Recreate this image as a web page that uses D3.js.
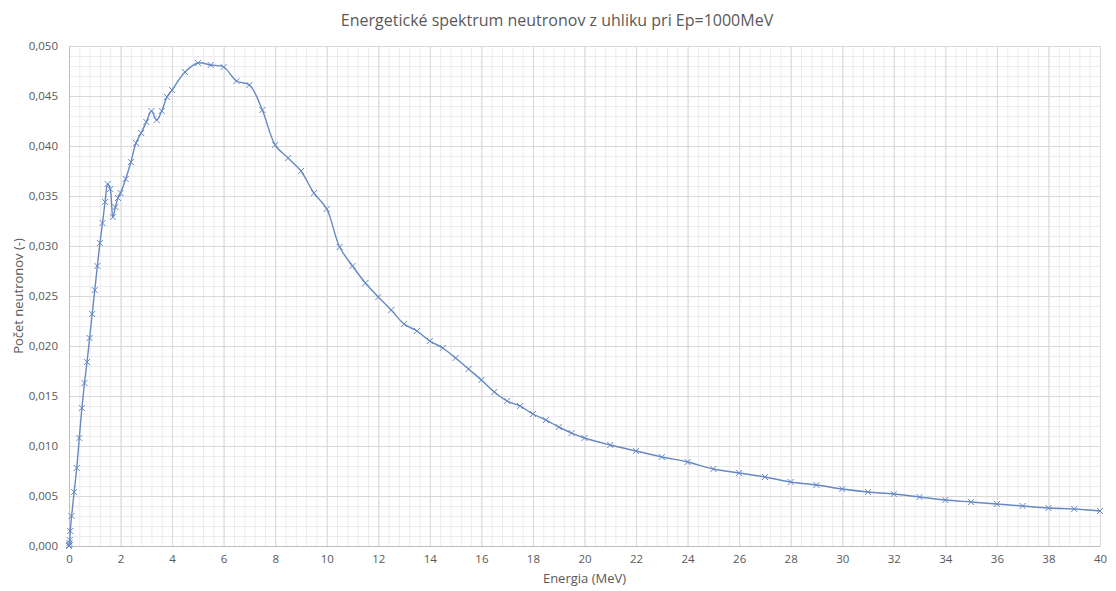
<!DOCTYPE html>
<html>
<head>
<meta charset="utf-8">
<script src="https://cdn.jsdelivr.net/npm/d3@7"></script>
<style>
  html, body { margin: 0; padding: 0; background: #fff; }
  #chart { width: 1116px; height: 591px; }
  text { font-family: "Open Sans", "Noto Sans", sans-serif; fill: #595959; }
</style>
</head>
<body>
<div id="chart"></div>
<script>
/* ── Data ──────────────────────────────────────────────────────────── */
const energy = [
  0, 0.01, 0.02, 0.03, 0.05, 0.1, 0.2, 0.3, 0.4, 0.5, 0.6, 0.7, 0.8, 0.9, 1.0,
  1.1, 1.2, 1.3, 1.4, 1.5, 1.6, 1.7, 1.8, 1.9, 2.0, 2.2, 2.4, 2.6, 2.8, 3.0,
  3.2, 3.4, 3.6, 3.8, 4.0, 4.5, 5.0, 5.5, 6.0, 6.5, 7.0, 7.5, 8.0, 8.5, 9.0,
  9.5, 10, 10.5, 11, 11.5, 12, 12.5, 13, 13.5, 14, 14.5, 15, 15.5, 16, 16.5,
  17, 17.5, 18, 18.5, 19, 19.5, 20, 21, 22, 23, 24, 25, 26, 27, 28, 29, 30,
  31, 32, 33, 34, 35, 36, 37, 38, 39, 40
];
const counts = [
  0.0000, 0.0001, 0.0003, 0.0006, 0.0015, 0.0030, 0.0054, 0.0078, 0.0108, 0.0138,
  0.0163, 0.0184, 0.0208, 0.0232, 0.0256, 0.0280, 0.0303, 0.0323, 0.0344, 0.0362,
  0.0357, 0.0329, 0.0339, 0.0348, 0.0353, 0.0367, 0.0384, 0.0403, 0.0413, 0.0424,
  0.0435, 0.0426, 0.0435, 0.0449, 0.0456, 0.0474, 0.0483, 0.0481, 0.0479, 0.0465,
  0.0461, 0.0436, 0.0401, 0.0388, 0.0375, 0.0353, 0.0337, 0.0299, 0.0280, 0.0263,
  0.0249, 0.0236, 0.0222, 0.0215, 0.0205, 0.0198, 0.0188, 0.0177, 0.0166, 0.0154,
  0.0145, 0.0140, 0.0132, 0.0126, 0.0119, 0.0113, 0.0108, 0.0101, 0.0095, 0.0089,
  0.0084, 0.0077, 0.0073, 0.0069, 0.0064, 0.0061, 0.0057, 0.0054, 0.0052, 0.0049,
  0.0046, 0.0044, 0.0042, 0.0040, 0.0038, 0.0037, 0.0035
];
const xTicks = d3.range(0, 41, 2);
const yTicks = d3.range(0, 0.0501, 0.005);
const xMinor = d3.range(0, 40.01, 0.4);
const yMinor = d3.range(0, 0.0501, 0.001);

const TITLE  = 'Energetické spektrum neutronov z uhliku pri Ep=1000MeV';
const XLABEL = 'Energia (MeV)';
const YLABEL = 'Počet neutronov (-)';

/* ── Layout ────────────────────────────────────────────────────────── */
const W = 1116, H = 591;
const margin = { top: 46, right: 16, bottom: 45, left: 69 };
const w = W - margin.left - margin.right;
const h = H - margin.top - margin.bottom;
const COLOR = '#6688c5';

const svg = d3.select('#chart').append('svg')
  .attr('width', W).attr('height', H)
  .attr('viewBox', `0 0 ${W} ${H}`);

const g = svg.append('g')
  .attr('transform', `translate(${margin.left},${margin.top})`);

const x = d3.scaleLinear().domain([0, 40]).range([0, w]);
const y = d3.scaleLinear().domain([0, 0.05]).range([h, 0]);

/* ── Grid: minor then major ────────────────────────────────────────── */
g.append('g')
  .call(d3.axisLeft(y).tickValues(yMinor).tickSize(-w).tickFormat(''))
  .call(sel => sel.select('.domain').remove())
  .call(sel => sel.selectAll('line').attr('stroke', '#ececec'));

g.append('g')
  .attr('transform', `translate(0,${h})`)
  .call(d3.axisBottom(x).tickValues(xMinor).tickSize(-h).tickFormat(''))
  .call(sel => sel.select('.domain').remove())
  .call(sel => sel.selectAll('line').attr('stroke', '#ececec'));

g.append('g')
  .call(d3.axisLeft(y).tickValues(yTicks).tickSize(-w).tickFormat(''))
  .call(sel => sel.select('.domain').remove())
  .call(sel => sel.selectAll('line').attr('stroke', '#d9d9d9'));

g.append('g')
  .attr('transform', `translate(0,${h})`)
  .call(d3.axisBottom(x).tickValues(xTicks).tickSize(-h).tickFormat(''))
  .call(sel => sel.select('.domain').remove())
  .call(sel => sel.selectAll('line').attr('stroke', '#d9d9d9'));

/* ── Axes ──────────────────────────────────────────────────────────── */
const fmtY = d => d3.format('.3f')(d).replace('.', ',');

g.append('g')
  .attr('transform', `translate(0,${h})`)
  .call(d3.axisBottom(x).tickValues(xTicks).tickSize(0).tickPadding(9))
  .call(sel => sel.select('.domain').attr('stroke', '#bfbfbf'))
  .call(sel => sel.selectAll('text').attr('font-size', '11.5px').attr('fill', '#595959'));

g.append('g')
  .call(d3.axisLeft(y).tickValues(yTicks).tickFormat(fmtY).tickSize(0).tickPadding(11))
  .call(sel => sel.select('.domain').attr('stroke', '#bfbfbf'))
  .call(sel => sel.selectAll('text').attr('font-size', '11.5px').attr('fill', '#595959'));

/* ── Series ────────────────────────────────────────────────────────── */
const pts = energy.map((e, i) => ({ e, v: counts[i] }));

const line = d3.line()
  .x(d => x(d.e)).y(d => y(d.v))
  .curve(d3.curveCatmullRom.alpha(0.5));

g.append('path').datum(pts)
  .attr('d', line)
  .attr('fill', 'none')
  .attr('stroke', COLOR)
  .attr('stroke-width', 1.4)
  .attr('stroke-linejoin', 'round');

const m = 3;
g.append('g').selectAll('path')
  .data(pts)
  .join('path')
  .attr('transform', d => `translate(${x(d.e)},${y(d.v)})`)
  .attr('d', `M${-m},${-m}L${m},${m}M${-m},${m}L${m},${-m}`)
  .attr('stroke', COLOR)
  .attr('stroke-width', 1)
  .attr('fill', 'none');

/* ── Titles ────────────────────────────────────────────────────────── */
svg.append('text')
  .attr('x', 557).attr('y', 26)
  .attr('text-anchor', 'middle')
  .attr('font-size', '16px')
  .text(TITLE);

svg.append('text')
  .attr('x', margin.left + w / 2).attr('y', 583)
  .attr('text-anchor', 'middle')
  .attr('font-size', '13px')
  .text(XLABEL);

svg.append('text')
  .attr('transform', `translate(23,${margin.top + h / 2}) rotate(-90)`)
  .attr('text-anchor', 'middle')
  .attr('font-size', '13px')
  .text(YLABEL);
</script>
</body>
</html>
